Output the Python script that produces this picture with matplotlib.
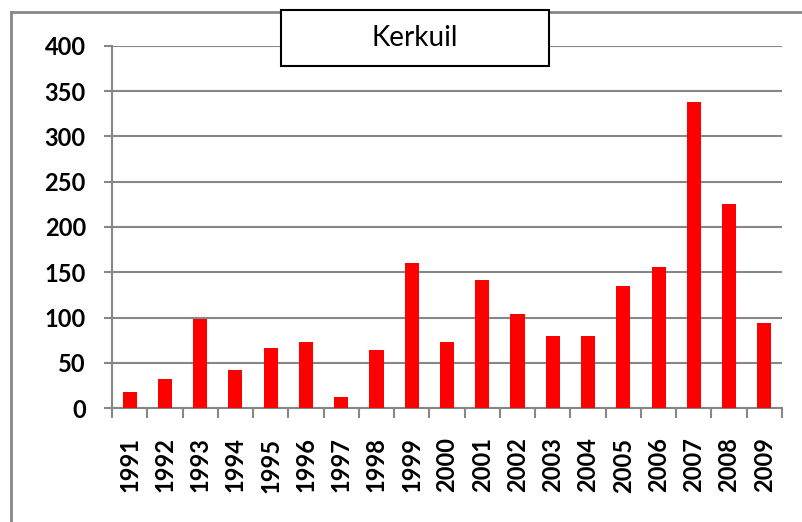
import matplotlib
matplotlib.use('Agg')
import matplotlib.pyplot as plt
from matplotlib.lines import Line2D
from matplotlib.patches import Rectangle

years = ['1991', '1992', '1993', '1994', '1995', '1996', '1997', '1998', '1999', '2000',
         '2001', '2002', '2003', '2004', '2005', '2006', '2007', '2008', '2009']
counts = [18, 32, 99, 42, 67, 73, 12, 64, 160, 73,
          141, 104, 80, 80, 135, 156, 338, 225, 94]
y_ticks = [0, 50, 100, 150, 200, 250, 300, 350, 400]
title = 'Kerkuil'

grey = '#878787'
W, H = 802, 522

fig = plt.figure(figsize=(W / 100, H / 100), dpi=100)
ax = fig.add_axes([112 / W, 1 - 408.3 / H, (782 - 112) / W, (408.3 - 45.7) / H])

x = list(range(len(years)))
ax.bar(x, counts, width=0.4, color='#ff0000', zorder=3)

ax.set_xlim(-0.5, len(years) - 0.5)
ax.set_ylim(0, 400)
ax.set_yticks(y_ticks)
ax.set_yticklabels([str(v) for v in y_ticks], fontsize=17, fontfamily='Lato', fontweight='bold')
ax.yaxis.grid(True, color=grey, linewidth=1.5, zorder=0)
ax.set_axisbelow(True)

ax.set_xticks(x)
ax.set_xticklabels(years, rotation=90, fontsize=17, fontfamily='Lato', fontweight='bold')
ax.set_xticks([i - 0.5 for i in range(len(years) + 1)], minor=True)
ax.tick_params(axis='x', which='major', length=0, pad=21)
ax.tick_params(axis='x', which='minor', length=7.2, width=1.5, color=grey, direction='out')
ax.tick_params(axis='y', length=5.8, width=1.5, color=grey, pad=13)

for side in ['top', 'right']:
    ax.spines[side].set_visible(False)
for side in ['left', 'bottom']:
    ax.spines[side].set_color(grey)
    ax.spines[side].set_linewidth(1.5)

# outer chart frame (clipped by the picture edges)
fx = 11 / W
fy = 1 - 12 / H
fig.add_artist(Line2D([fx, fx], [0, fy], color=grey, linewidth=2, transform=fig.transFigure))
fig.add_artist(Line2D([fx, 1], [fy, fy], color=grey, linewidth=2, transform=fig.transFigure))

# title box
bx0, bx1 = 280.7 / W, 549 / W
by0, by1 = 1 - 65.7 / H, 1 - 10.3 / H
fig.add_artist(Rectangle((bx0, by0), bx1 - bx0, by1 - by0, facecolor='white', edgecolor='black',
                         linewidth=1.5, transform=fig.transFigure, zorder=5))
fig.text((bx0 + bx1) / 2, (by0 + by1) / 2, title, ha='center', va='center', fontsize=20,
         fontfamily='Lato', zorder=6)

plt.savefig('out.png', dpi=100)
